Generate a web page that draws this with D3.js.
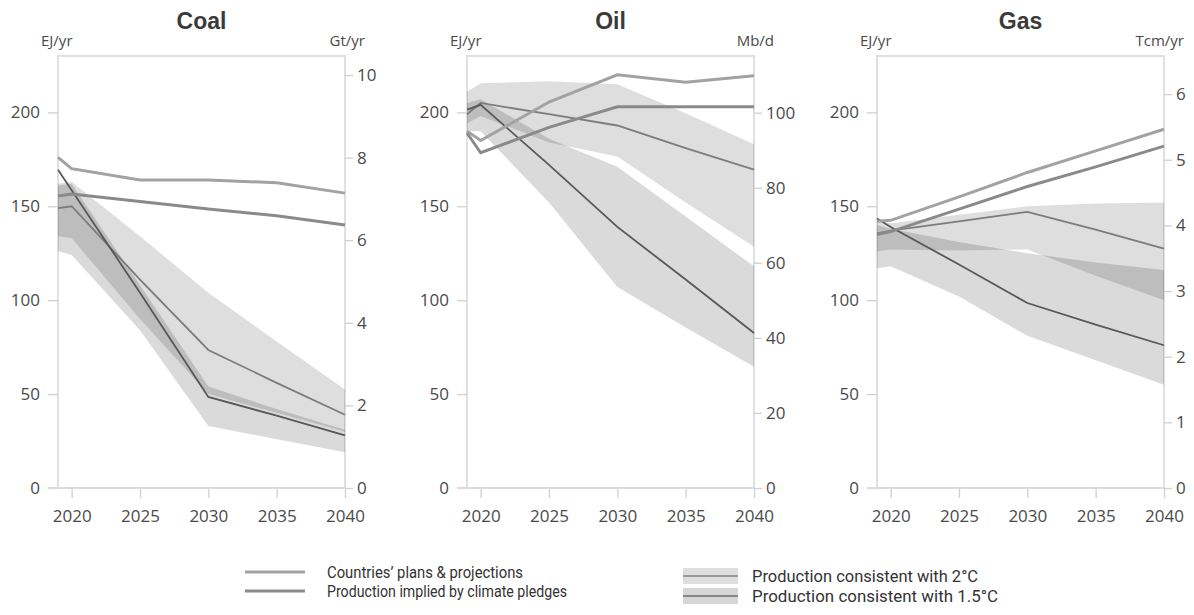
<!DOCTYPE html>
<html><head><meta charset="utf-8">
<script src="https://cdn.jsdelivr.net/npm/d3@7"></script>
<style>body{margin:0;background:#fff}svg{display:block}</style>
</head><body>
<svg id="chart" width="1194" height="615"></svg>
<script>
// ---------- data ----------
const years = [2019, 2020, 2025, 2030, 2035, 2040];
const xTicks = [2020, 2025, 2030, 2035, 2040];
const leftTicks = [0, 50, 100, 150, 200];
const panelTitles = ["Coal", "Oil", "Gas"];
const leftUnit = "EJ/yr";
const rightUnits = ["Gt/yr", "Mb/d", "Tcm/yr"];
const rightTicks = [[0, 2, 4, 6, 8, 10], [0, 20, 40, 60, 80, 100], [0, 1, 2, 3, 4, 5, 6]];
const leftMax = 230;
const rightMax = [10.46, 115.1, 6.58];

// Coal (EJ/yr)
const coalPlans   = [176, 170, 164, 164, 162.5, 157];
const coalPledges = [155.5, 156.5, 152.5, 148.5, 145, 140];
const coal2C      = [149, 150, 111, 73.5, 56, 39];
const coal15      = [169.5, 158.5, 104, 48.5, 38.5, 28];
const coal2CHigh  = [162, 163, 134, 104, 78, 52.5];
const coal2CLow   = [134, 133, 90, 50, 40, 30];
const coal15High  = [161, 162, 108, 54, 42, 31];
const coal15Low   = [126, 124, 84, 33, 26, 19];

// Oil (EJ/yr)
const oilPlans   = [190, 185, 205.5, 220, 216, 219.5];
const oilPledges = [189, 178.5, 192, 203, 203, 203];
const oil2C      = [199, 205, 199, 193, 181, 169.5];
const oil15      = [201.5, 204, 172, 139, 111, 82.5];
const oil2CHigh  = [211, 215.5, 216.5, 215, 199.5, 183];
const oil2CLow   = [194, 198, 184, 176.5, 152, 128.5];
const oil15High  = [205, 207, 186, 171, 144.5, 118];
const oil15Low   = [190, 190, 152, 107, 85.5, 64.5];

// Gas (EJ/yr)
const gasPlans   = [142, 142.5, 155, 168, 179.5, 191];
const gasPledges = [135, 136.5, 148.5, 160.5, 171, 182];
const gas2C      = [135.5, 137, 142, 147, 137.5, 127.5];
const gas15      = [143.5, 139, 119, 98.5, 87, 76];
const gas2CHigh  = [142, 141, 145.5, 150, 151.5, 152];
const gas2CLow   = [126, 127, 126.5, 127, 113, 100];
const gas15High  = [140, 138, 131, 125, 120, 116];
const gas15Low   = [117, 118, 102, 81, 68, 55];

const legendLines = ["Countries\u2019 plans & projections", "Production implied by climate pledges"];
const legendBands = ["Production consistent with 2\u00B0C", "Production consistent with 1.5\u00B0C"];

const panelData = [
  {plans: coalPlans, pledges: coalPledges, c2: coal2C, c15: coal15, h2: coal2CHigh, l2: coal2CLow, h15: coal15High, l15: coal15Low},
  {plans: oilPlans, pledges: oilPledges, c2: oil2C, c15: oil15, h2: oil2CHigh, l2: oil2CLow, h15: oil15High, l15: oil15Low},
  {plans: gasPlans, pledges: gasPledges, c2: gas2C, c15: gas15, h2: gas2CHigh, l2: gas2CLow, h15: gas15High, l15: gas15Low}
];

// ---------- layout / style ----------
const frameLefts = [58, 467, 877];
const frameW = 287, plotTop = 56, plotBottom = 488;
const textCol = "#4a4a4a";
const tickFont = "'Open Sans', sans-serif";
const colPlans = "#a2a2a2", colPledges = "#8a8a8a", col2C = "#7c7c7c", col15 = "#585858";

const svg = d3.select("#chart");

panelData.forEach((p, i) => {
  const L = frameLefts[i], R = L + frameW;
  const x = d3.scaleLinear().domain([2019, 2040]).range([L, R]);
  const y = d3.scaleLinear().domain([0, leftMax]).range([plotBottom, plotTop]);
  const yR = d3.scaleLinear().domain([0, rightMax[i]]).range([plotBottom, plotTop]);
  const g = svg.append("g");

  // frame
  g.append("path")
    .attr("d", `M${L},${plotBottom}V${plotTop}H${R}V${plotBottom}`)
    .attr("fill", "none").attr("stroke", "#e0e0e0").attr("stroke-width", 2);

  // axes
  const styleAxis = (sel) => {
    sel.select(".domain").remove();
    sel.selectAll(".tick line").attr("stroke", "#d0d0d0").attr("stroke-width", 1.3);
    sel.selectAll(".tick text").attr("fill", textCol).style("font-family", tickFont).style("font-size", "17px");
  };
  g.append("g").attr("transform", `translate(${L},0)`)
    .call(d3.axisLeft(y).tickValues(leftTicks).tickFormat(d3.format("d")).tickSize(10).tickPadding(8))
    .call(styleAxis);
  g.append("g").attr("transform", `translate(${R},0)`)
    .call(d3.axisRight(yR).tickValues(rightTicks[i]).tickFormat(d3.format("d")).tickSize(8).tickPadding(4))
    .call(styleAxis);
  g.append("g").attr("transform", `translate(0,${plotBottom})`)
    .call(d3.axisBottom(x).tickValues(xTicks).tickFormat(d3.format("d")).tickSize(10).tickPadding(12))
    .call(styleAxis);
  // baseline
  g.append("line").attr("x1", L - 10).attr("x2", R).attr("y1", plotBottom).attr("y2", plotBottom)
    .attr("stroke", "#dcdcdc").attr("stroke-width", 2);

  // bands
  const idx = d3.range(years.length);
  const band = (hi, lo) => d3.area().x(j => x(years[j])).y0(j => y(lo[j])).y1(j => y(hi[j]))(idx);
  g.append("path").attr("d", band(p.h2, p.l2)).attr("fill", "#000").attr("fill-opacity", 0.13);
  g.append("path").attr("d", band(p.h15, p.l15)).attr("fill", "#000").attr("fill-opacity", 0.145);

  const line = (vals) => d3.line().x(j => x(years[j])).y(j => y(vals[j]))(idx);
  g.append("path").attr("d", line(p.c2)).attr("fill", "none").attr("stroke", col2C).attr("stroke-width", 1.8);
  g.append("path").attr("d", line(p.c15)).attr("fill", "none").attr("stroke", col15).attr("stroke-width", 1.8);
  g.append("path").attr("d", line(p.plans)).attr("fill", "none").attr("stroke", colPlans).attr("stroke-width", 3);
  g.append("path").attr("d", line(p.pledges)).attr("fill", "none").attr("stroke", colPledges).attr("stroke-width", 3);

  // titles & units
  g.append("text").attr("x", (L + R) / 2).attr("y", 29).attr("text-anchor", "middle")
    .attr("fill", "#3a3a3a").style("font-family", "'Liberation Sans', Arial, sans-serif")
    .style("font-weight", "bold").style("font-size", "23px").text(panelTitles[i]);
  g.append("text").attr("x", L - 17).attr("y", 46).attr("fill", textCol)
    .style("font-family", tickFont).style("font-size", "15px").text(leftUnit);
  g.append("text").attr("x", R + 20).attr("y", 46).attr("text-anchor", "end").attr("fill", textCol)
    .style("font-family", tickFont).style("font-size", "15px").text(rightUnits[i]);
});

// ---------- legend ----------
const lg = svg.append("g");
const legFont = "Roboto, sans-serif";
const lineCols = [colPlans, colPledges];
const lineYs = [572, 591];
const lineW = [196, 240];
legendLines.forEach((t, k) => {
  lg.append("line").attr("x1", 245).attr("x2", 305).attr("y1", lineYs[k]).attr("y2", lineYs[k])
    .attr("stroke", lineCols[k]).attr("stroke-width", 3);
  lg.append("text").attr("x", 327).attr("y", lineYs[k] + 6).attr("fill", "#333")
    .style("font-family", legFont).style("font-size", "17px")
    .attr("textLength", lineW[k]).attr("lengthAdjust", "spacingAndGlyphs").text(t);
});
const bandYs = [576, 596];
const bandFill = ["#dedede", "#d6d6d6"];
const bandLine = ["#9a9a9a", "#888"];
const bandW = [226, 246];
legendBands.forEach((t, k) => {
  lg.append("rect").attr("x", 683).attr("y", bandYs[k] - 8).attr("width", 55).attr("height", 16)
    .attr("fill", bandFill[k]);
  lg.append("line").attr("x1", 683).attr("x2", 738).attr("y1", bandYs[k]).attr("y2", bandYs[k])
    .attr("stroke", bandLine[k]).attr("stroke-width", 1.8);
  lg.append("text").attr("x", 752).attr("y", bandYs[k] + 6).attr("fill", "#333")
    .style("font-family", legFont).style("font-size", "17px")
    .attr("textLength", bandW[k]).attr("lengthAdjust", "spacingAndGlyphs").text(t);
});
</script>
</body></html>
